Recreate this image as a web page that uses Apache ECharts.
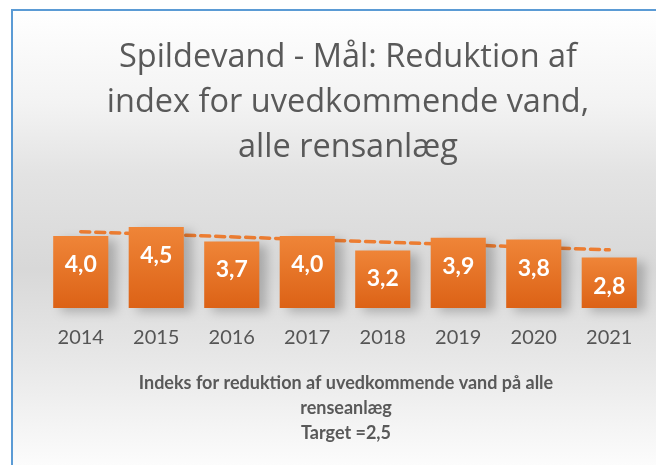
<!DOCTYPE html>
<html>
<head>
<meta charset="utf-8">
<script src="https://cdn.jsdelivr.net/npm/echarts@6/dist/echarts.min.js"></script>
<style>
html,body{margin:0;padding:0;background:#fff;}
#main{width:656px;height:465px;}
</style>
</head>
<body>
<div id="main"></div>
<script>
var years = ['2014','2015','2016','2017','2018','2019','2020','2021'];
var indexValues = [4.0, 4.5, 3.7, 4.0, 3.2, 3.9, 3.8, 2.8];
// trendlinie (start og slut)
var trendStart = 4.24;
var trendEnd = 3.23;

var chart = echarts.init(document.getElementById('main'));
var font = 'Lato, "Open Sans", sans-serif';

option = {
    backgroundColor: '#fff',
    animation: false,
    title: {
        text: 'Spildevand - Mål: Reduktion af\nindex for uvedkommende vand,\nalle rensanlæg',
        left: 343,
        top: 30,
        textAlign: 'center',
        textStyle: {
            color: '#595959',
            fontFamily: '"Open Sans", sans-serif',
            fontWeight: 'normal',
            fontSize: 32.5,
            lineHeight: 45
        }
    },
    graphic: [
        {
            type: 'rect',
            z: -10,
            shape: {x: 12, y: 10, width: 660, height: 470},
            style: {
                fill: new echarts.graphic.LinearGradient(0, 0, 0, 1, [
                    {offset: 0, color: '#ffffff'},
                    {offset: 0.2, color: '#f3f3f3'},
                    {offset: 0.35, color: '#e3e3e3'},
                    {offset: 0.55, color: '#d8d8d8'},
                    {offset: 0.75, color: '#e8e8e8'},
                    {offset: 1, color: '#ffffff'}
                ]),
                stroke: '#5b9bd5',
                lineWidth: 2
            }
        },
        {
            type: 'text',
            top: 371,
            style: {
                text: 'Indeks for reduktion af uvedkommende vand på alle\nrenseanlæg\nTarget =2,5',
                textAlign: 'center',
                fill: '#595959',
                font: 'bold 18px ' + font,
                lineHeight: 25
            },
            x: 346
        }
    ],
    grid: {left: 43, right: 9, top: 218, bottom: 157},
    xAxis: {
        type: 'category',
        data: years,
        axisLine: {show: false},
        axisTick: {show: false},
        axisLabel: {color: '#555555', fontSize: 20, fontFamily: font, margin: 20}
    },
    yAxis: {
        type: 'value',
        min: 0,
        max: 5,
        show: false,
        splitLine: {show: false}
    },
    series: [
        {
            type: 'line',
            z: 1,
            data: [[years[0], trendStart], [years[years.length - 1], trendEnd]],
            symbol: 'none',
            lineStyle: {color: '#ed7d31', width: 3.5, type: [9, 6], cap: 'round'}
        },
        {
            type: 'bar',
            z: 2,
            data: indexValues,
            barWidth: '73%',
            itemStyle: {
                color: new echarts.graphic.LinearGradient(0, 0, 0, 1, [
                    {offset: 0, color: '#ef8538'},
                    {offset: 1, color: '#dc6216'}
                ]),
                shadowColor: 'rgba(0,0,0,0.22)',
                shadowBlur: 10,
                shadowOffsetX: 8,
                shadowOffsetY: 4
            },
            label: {
                show: true,
                position: 'insideTop',
                distance: 17,
                color: '#fff',
                fontFamily: font,
                fontWeight: 'bold',
                fontSize: 23,
                formatter: function (p) {
                    return p.value.toFixed(1).replace('.', ',');
                }
            }
        }
    ]
};
chart.setOption(option);
</script>
</body>
</html>
